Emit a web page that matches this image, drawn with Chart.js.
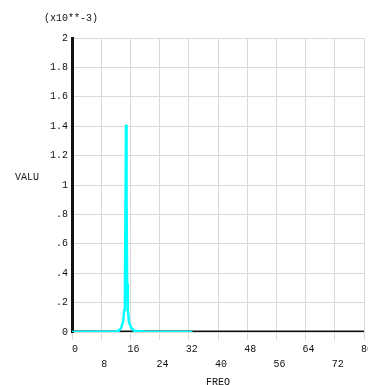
<!DOCTYPE html>
<html>
<head>
<meta charset="utf-8">
<script src="https://cdn.jsdelivr.net/npm/chart.js@4"></script>
<style>
  html, body { margin: 0; padding: 0; background: #fff; overflow: hidden; }
  #wrap { width: 368px; height: 385px; position: relative; }
</style>
</head>
<body>
<div id="wrap"><canvas id="c"></canvas></div>
<script>
// ---- data ----
const freqCyan = [0, 8, 12, 12.8, 13.5, 14, 14.3, 14.5, 14.65, 14.8, 14.95, 15.1, 15.3, 15.6, 16.2, 17, 20, 33];
const valuCyan = [0, 0.001, 0.003, 0.008, 0.03, 0.07, 0.15, 0.33, 0.8, 1.41, 0.9, 0.33, 0.15, 0.07, 0.03, 0.008, 0.002, 0];
const freqBlack = [0, 80];
const valuBlack = [0, 0];
const xTickLabels = ['0', '8', '16', '24', '32', '40', '48', '56', '64', '72', '80'];
const yTickLabels = ['0', '.2', '.4', '.6', '.8', '1', '1.2', '1.4', '1.6', '1.8', '2'];
const yUnitLabel = '(x10**-3)';
const yTitle = 'VALU';
const xTitle = 'FREQ';

const FONT = '"Liberation Mono", "DejaVu Sans Mono", monospace';
const GRID = '#d9d9d9';

const textPlugin = {
  id: 'texts',
  afterDraw(chart) {
    const ctx = chart.ctx;
    ctx.save();
    ctx.fillStyle = '#111';
    ctx.font = '10px ' + FONT;
    ctx.textAlign = 'center';
    ctx.textBaseline = 'middle';
    ctx.fillText(yUnitLabel, 71, 18);
    ctx.fillText(yTitle, 27, 177);
    ctx.fillText(xTitle, (chart.chartArea.left + chart.chartArea.right) / 2, 382);
    ctx.restore();
  }
};

new Chart(document.getElementById('c'), {
  type: 'line',
  data: {
    datasets: [
      {
        data: freqCyan.map((x, i) => ({ x, y: valuCyan[i] })),
        borderColor: '#00ffff',
        borderWidth: 2.5,
        pointRadius: 0,
        tension: 0,
        order: 0
      },
      {
        data: freqBlack.map((x, i) => ({ x, y: valuBlack[i] })),
        borderColor: '#111',
        borderWidth: 3,
        pointRadius: 0,
        tension: 0,
        order: 1
      }
    ]
  },
  options: {
    responsive: true,
    maintainAspectRatio: false,
    animation: false,
    layout: { padding: { top: 38, left: 0, right: 0, bottom: 0 } },
    plugins: { legend: { display: false }, tooltip: { enabled: false } },
    scales: {
      x: {
        type: 'linear',
        min: 0, max: 80,
        afterBuildTicks(scale) {
          scale.ticks = xTickLabels.map((_, i) => ({ value: i * 8 }));
        },
        afterFit(scale) {
          scale.height = 53;
          scale.paddingLeft = 0;
          scale.paddingRight = 4;
        },
        border: { display: false },
        grid: { color: GRID, lineWidth: 1, drawTicks: true, tickLength: 8, tickColor: GRID },
        ticks: {
          autoSkip: false, maxRotation: 0, minRotation: 0, padding: 2,
          color: '#111',
          font: { family: FONT, size: 10, lineHeight: 1.5 },
          callback: (v, i) => (i % 2 === 0 ? [' ' + xTickLabels[i], ''] : ['', ' ' + xTickLabels[i]])
        }
      },
      y: {
        type: 'linear',
        min: 0, max: 2,
        afterBuildTicks(scale) {
          scale.ticks = yTickLabels.map((_, i) => ({ value: i * 0.2 }));
        },
        afterFit(scale) {
          scale.width = 72;
          scale.paddingTop = 0;
          scale.paddingBottom = 0;
        },
        border: { display: true, color: '#111', width: 3 },
        grid: { color: GRID, lineWidth: 1, drawTicks: false },
        ticks: {
          padding: 4,
          color: '#111',
          font: { family: FONT, size: 10 },
          callback: (v, i) => yTickLabels[i]
        }
      }
    }
  },
  plugins: [textPlugin]
});
</script>
</body>
</html>
